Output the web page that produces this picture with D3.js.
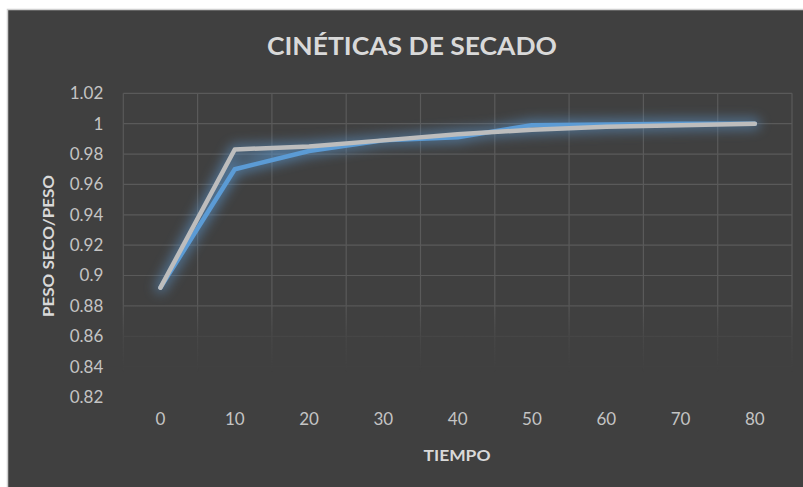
<!DOCTYPE html>
<html>
<head>
<meta charset="utf-8">
<script src="https://cdn.jsdelivr.net/npm/d3@7"></script>
<style>
  html, body { margin: 0; padding: 0; background: #ffffff; }
  svg { display: block; }
  text { font-family: Lato, "Open Sans", sans-serif; }
</style>
</head>
<body>
<svg id="chart" width="803" height="487"></svg>
<script>
// ---- data ----
const categories = [0, 10, 20, 30, 40, 50, 60, 70, 80];
const seriesBlue = [0.892, 0.970, 0.982, 0.989, 0.991, 0.999, 0.9995, 1.0, 1.0];
const seriesGray = [0.892, 0.983, 0.985, 0.989, 0.993, 0.996, 0.998, 0.999, 1.0];
const yTicks = [0.82, 0.84, 0.86, 0.88, 0.9, 0.92, 0.94, 0.96, 0.98, 1, 1.02];
const titleText = "CINÉTICAS DE SECADO";
const xTitle = "TIEMPO";
const yTitle = "PESO SECO/PESO";

const svg = d3.select("#chart");
const W = 803, H = 487;
const plot = { left: 123.3, right: 792, top: 93.3, bottom: 397 };

// background
svg.append("rect").attr("x", 0).attr("y", 0).attr("width", W).attr("height", H).attr("fill", "#ffffff");
svg.append("rect").attr("x", 7.5).attr("y", 9.5).attr("width", W).attr("height", H)
  .attr("fill", "#404040").attr("stroke", "#d0d0d0").attr("stroke-width", 1.5);

const x = d3.scaleBand().domain(categories).range([plot.left, plot.right]).padding(0);
const y = d3.scaleLinear().domain([0.82, 1.02]).range([plot.bottom, plot.top]);
const cx = d => x(d) + x.bandwidth() / 2;

const defs = svg.append("defs");
// fading mask for gridlines
const grad = defs.append("linearGradient").attr("id", "fade")
  .attr("gradientUnits", "userSpaceOnUse").attr("x1", 0).attr("y1", 0).attr("x2", 0).attr("y2", H);
grad.append("stop").attr("offset", 300 / H).attr("stop-color", "#fff").attr("stop-opacity", 1);
grad.append("stop").attr("offset", 337 / H).attr("stop-color", "#fff").attr("stop-opacity", 0.3);
grad.append("stop").attr("offset", 372 / H).attr("stop-color", "#fff").attr("stop-opacity", 0);
const mask = defs.append("mask").attr("id", "gridmask").attr("maskUnits", "userSpaceOnUse")
  .attr("x", 0).attr("y", 0).attr("width", W).attr("height", H);
mask.append("rect").attr("x", 0).attr("y", 0).attr("width", W).attr("height", H).attr("fill", "url(#fade)");

// glow filter
const glow = defs.append("filter").attr("id", "glow").attr("x", "-20%").attr("y", "-50%").attr("width", "140%").attr("height", "200%");
glow.append("feGaussianBlur").attr("in", "SourceGraphic").attr("stdDeviation", 6).attr("result", "b");

// gridlines
const grid = svg.append("g").attr("mask", "url(#gridmask)");
grid.selectAll("line.h").data(yTicks).join("line")
  .attr("x1", plot.left).attr("x2", plot.right)
  .attr("y1", d => y(d)).attr("y2", d => y(d))
  .attr("stroke", "#5a5a5a").attr("stroke-width", 1.2);
const vb = categories.map(c => x(c)).concat([x(categories[categories.length - 1]) + x.bandwidth()]);
grid.selectAll("line.v").data(vb).join("line")
  .attr("x1", d => d).attr("x2", d => d)
  .attr("y1", plot.top).attr("y2", plot.bottom)
  .attr("stroke", "#5a5a5a").attr("stroke-width", 1.2);

// y axis
const yAxis = d3.axisLeft(y).tickValues(yTicks).tickSize(0).tickPadding(0)
  .tickFormat(d => d3.format("")(+d.toFixed(2)));
const gy = svg.append("g").attr("transform", `translate(${plot.left - 20},0)`).call(yAxis);
gy.select(".domain").remove();
gy.selectAll("text").attr("fill", "#c4c4c4").style("font-size", "17px").style("font-family", "Lato, sans-serif");

// x axis
const xAxis = d3.axisBottom(x).tickSize(0).tickPadding(0);
const gx = svg.append("g").attr("transform", `translate(0,${plot.bottom + 16})`).call(xAxis);
gx.select(".domain").remove();
gx.selectAll("text").attr("fill", "#c4c4c4").style("font-size", "17px").style("font-family", "Lato, sans-serif");

// lines
const lineGen = d3.line().x((d, i) => cx(categories[i])).y(d => y(d));
const glowG = svg.append("g").attr("filter", "url(#glow)").attr("opacity", 0.6);
glowG.append("path").attr("d", lineGen(seriesBlue)).attr("fill", "none")
  .attr("stroke", "#5b9bd5").attr("stroke-width", 11).attr("stroke-linecap", "round").attr("stroke-linejoin", "round");
glowG.append("path").attr("d", lineGen(seriesGray)).attr("fill", "none")
  .attr("stroke", "#5b8fc0").attr("stroke-width", 11).attr("stroke-linecap", "round").attr("stroke-linejoin", "round");

svg.append("path").attr("d", lineGen(seriesBlue)).attr("fill", "none")
  .attr("stroke", "#5b9bd5").attr("stroke-width", 4.5).attr("stroke-linecap", "round").attr("stroke-linejoin", "round");
svg.append("path").attr("d", lineGen(seriesGray)).attr("fill", "none")
  .attr("stroke", "#bdbdbd").attr("stroke-width", 4.5).attr("stroke-linecap", "round").attr("stroke-linejoin", "round");

// titles
svg.append("text").attr("x", 412).attr("y", 55).attr("text-anchor", "middle")
  .attr("fill", "#d9d9d9").style("font-size", "24px").style("font-weight", "bold")
  .attr("textLength", 290).attr("lengthAdjust", "spacingAndGlyphs")
  .text(titleText);
svg.append("text").attr("x", 457).attr("y", 461).attr("text-anchor", "middle")
  .attr("fill", "#d9d9d9").style("font-size", "14.5px").style("font-weight", "bold")
  .attr("textLength", 67).attr("lengthAdjust", "spacingAndGlyphs")
  .text(xTitle);
svg.append("text").attr("transform", `translate(54,246) rotate(-90)`).attr("text-anchor", "middle")
  .attr("fill", "#d9d9d9").style("font-size", "14.5px").style("font-weight", "bold")
  .attr("textLength", 142).attr("lengthAdjust", "spacingAndGlyphs")
  .text(yTitle);
</script>
</body>
</html>
